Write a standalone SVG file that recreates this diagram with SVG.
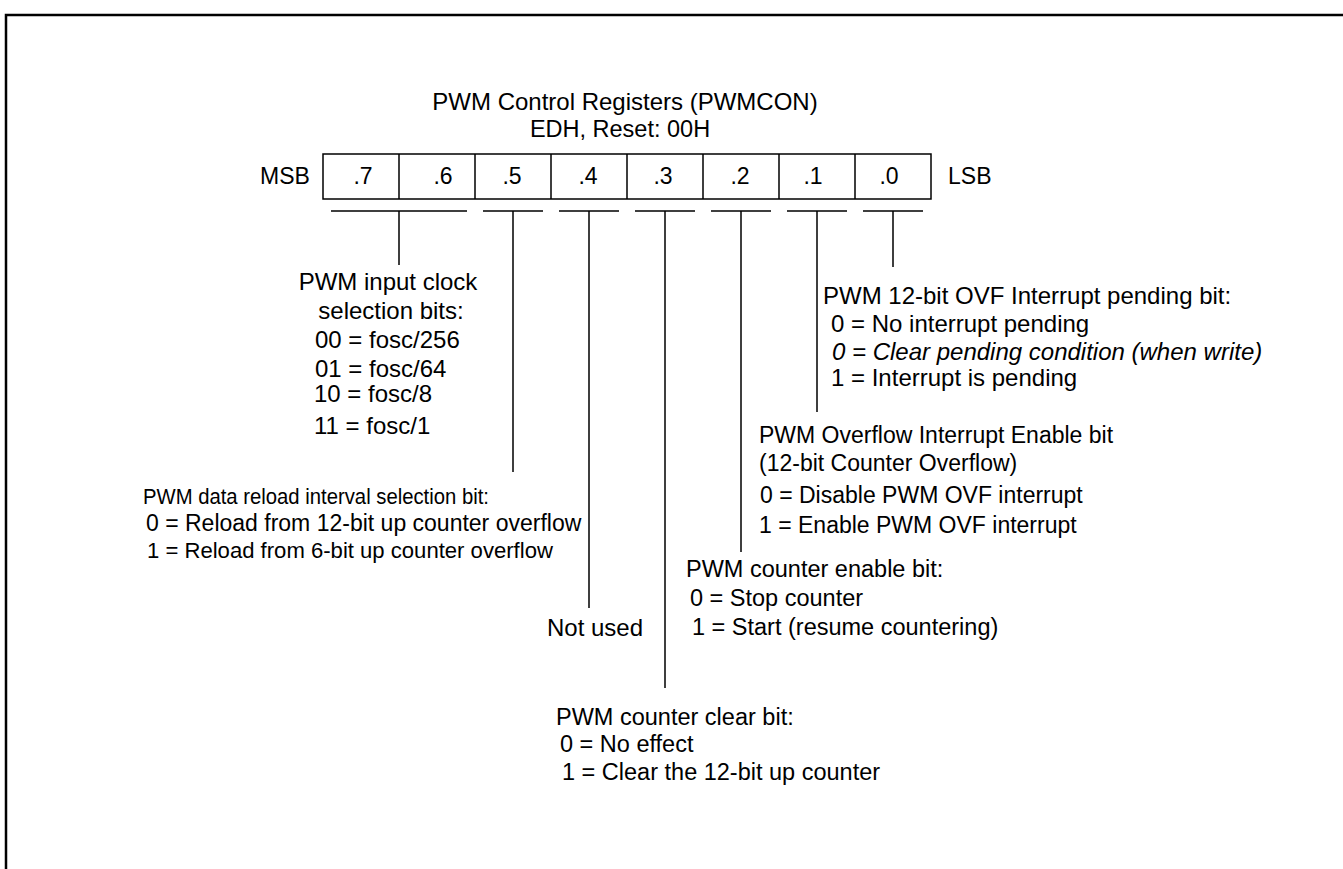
<svg xmlns="http://www.w3.org/2000/svg" width="1343" height="869" viewBox="0 0 1343 869">
<style>
text{font-family:"Liberation Sans",Arial,sans-serif;font-size:23.5px;fill:#000}
.c{text-anchor:middle}
.i{font-style:italic}
.r{font-size:23px}
.b24{font-size:24px}
.b23{font-size:23px}
.ln{stroke:#000;stroke-width:1.5;fill:none}
.bx{stroke:#000;stroke-width:1.5;fill:#fff}
</style>
<rect width="1343" height="869" fill="#fff"/>
<path d="M6 869V15H1343" stroke="#000" stroke-width="2.5" fill="none"/>
<g id="title">
<text class="c b24" x="625" y="110">PWM Control Registers (PWMCON)</text>
<text class="c" x="620" y="137">EDH, Reset: 00H</text>
</g>
<g id="register">
<text class="r" x="260" y="184">MSB</text>
<text class="r" x="948" y="184">LSB</text>
<rect class="bx" x="323" y="154" width="608" height="45"/>
<path class="ln" d="M399 154V199M475 154V199M551 154V199M627 154V199M703 154V199M779 154V199M855 154V199"/>
<text class="c r" x="363" y="184">.7</text>
<text class="c r" x="443" y="184">.6</text>
<text class="c r" x="512" y="184">.5</text>
<text class="c r" x="588" y="184">.4</text>
<text class="c r" x="663" y="184">.3</text>
<text class="c r" x="740" y="184">.2</text>
<text class="c r" x="813" y="184">.1</text>
<text class="c r" x="889" y="184">.0</text>
</g>
<g id="connectors">
<path class="ln" d="M331 211H467M483 211H543M559 211H619M635 211H695M711 211H771M787 211H847M863 211H923"/>
<path class="ln" d="M399 211V265M513 211V472M589 211V608M665 211V688M741 211V552M817 211V412M893 211V267"/>
</g>
<g id="bit76">
<text class="c b24" x="388" y="290">PWM input clock</text>
<text class="c b24" x="391" y="319">selection bits:</text>
<text class="b24" x="315" y="348">00 = fosc/256</text>
<text class="b24" x="315" y="377">01 = fosc/64</text>
<text class="b24" x="314" y="402">10 = fosc/8</text>
<text class="b24" x="314" y="434">11 = fosc/1</text>
</g>
<g id="bit5">
<text x="143" y="504" style="font-size:21.5px" textLength="346" lengthAdjust="spacingAndGlyphs">PWM data reload interval selection bit:</text>
<text x="146" y="531" style="font-size:23px">0 = Reload from 12-bit up counter overflow</text>
<text x="147" y="558" style="font-size:22.1px">1 = Reload from 6-bit up counter overflow</text>
</g>
<g id="bit4">
<text class="b24" x="547" y="636">Not used</text>
</g>
<g id="bit3">
<text x="556" y="725">PWM counter clear bit:</text>
<text x="560" y="752">0 = No effect</text>
<text x="562" y="780">1 = Clear the 12-bit up counter</text>
</g>
<g id="bit2">
<text x="686" y="577">PWM counter enable bit:</text>
<text x="690" y="606">0 = Stop counter</text>
<text x="692" y="635">1 = Start (resume countering)</text>
</g>
<g id="bit1">
<text class="b23" x="759" y="443">PWM Overflow Interrupt Enable bit</text>
<text class="b23" x="759" y="471">(12-bit Counter Overflow)</text>
<text class="b23" x="760" y="503">0 = Disable PWM OVF interrupt</text>
<text class="b23" x="759" y="533">1 = Enable PWM OVF interrupt</text>
</g>
<g id="bit0">
<text class="b24" x="823" y="304">PWM 12-bit OVF Interrupt pending bit:</text>
<text class="b24" x="831" y="332">0 = No interrupt pending</text>
<text class="i b24" x="832" y="360">0 = Clear pending condition (when write)</text>
<text class="b24" x="831" y="386">1 = Interrupt is pending</text>
</g>
</svg>
